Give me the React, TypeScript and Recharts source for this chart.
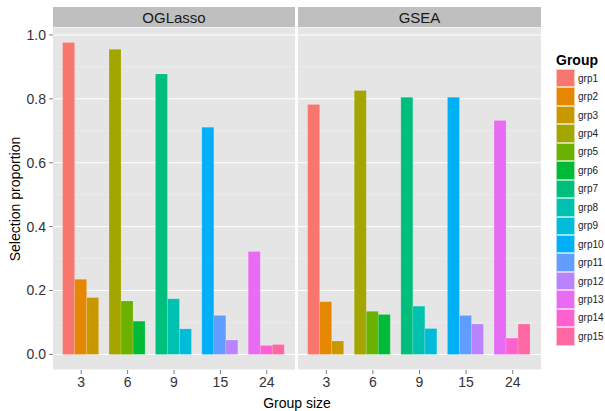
import React from 'react'
import { BarChart, Bar, Cell, XAxis, YAxis, CartesianGrid } from 'recharts'

const groupSizes = ['3', '6', '9', '15', '24']
const groupNames = ['grp1', 'grp2', 'grp3', 'grp4', 'grp5', 'grp6', 'grp7', 'grp8', 'grp9', 'grp10', 'grp11', 'grp12', 'grp13', 'grp14', 'grp15']
const groupColors = ['#F8766D', '#E58700', '#C99800', '#A3A500', '#6BB100', '#00BA38', '#00BF7D', '#00C0AF', '#00BCD8', '#00B0F6', '#619CFF', '#B983FF', '#E76BF3', '#FD61D1', '#FF67A4']

const ogLasso = [0.976, 0.235, 0.178, 0.955, 0.167, 0.104, 0.878, 0.174, 0.080, 0.711, 0.122, 0.045, 0.322, 0.028, 0.031]
const gsea = [0.782, 0.165, 0.042, 0.826, 0.135, 0.125, 0.805, 0.151, 0.081, 0.805, 0.122, 0.095, 0.732, 0.051, 0.095]

const majorTicks = [0, 0.2, 0.4, 0.6, 0.8, 1.0]
const minorTicks = [0.1, 0.3, 0.5, 0.7, 0.9]
const yDomain = [-0.0488, 1.0248]

const font = '"Liberation Sans", Arial, sans-serif'
const slots = ['a', 'b', 'c']

function buildRows(values: number[]) {
  return groupSizes.map((size, i) => ({
    size,
    a: values[i * 3],
    b: values[i * 3 + 1],
    c: values[i * 3 + 2],
  }))
}

// minor grid positions, mapped through the same linear domain as the y axis
function minorLines({ yAxis, offset }: any) {
  if (yAxis && typeof yAxis.scale === 'function') return minorTicks.map((v) => yAxis.scale(v))
  const [lo, hi] = yDomain
  return minorTicks.map((v) => offset.top + (offset.height * (hi - v)) / (hi - lo))
}

function Panel({ title, values, showY, left, width }: { title: string; values: number[]; showY: boolean; left: number; width: number }) {
  const rows = buildRows(values)
  const yW = showY ? 53 : 0
  return (
    <>
      <div
        style={{
          position: 'absolute', left: left + yW, top: 7, width: width - yW, height: 20,
          background: '#BFBFBF', textAlign: 'center', lineHeight: '21px', fontSize: 15, color: '#1a1a1a',
        }}
      >
        {title}
      </div>
      <div style={{ position: 'absolute', left, top: 27 }}>
        <BarChart
          width={width}
          height={380}
          data={rows}
          margin={{ top: 0, right: 0, bottom: 0, left: 0 }}
          barCategoryGap="10%"
          barGap={0}
        >
          <CartesianGrid
            vertical={false}
            fill="#E5E5E5"
            stroke="#F2F2F2"
            strokeWidth={0.6}
            horizontalCoordinatesGenerator={minorLines}
          />
          <CartesianGrid vertical={false} stroke="#FFFFFF" strokeWidth={1} />
          <XAxis
            dataKey="size"
            height={37}
            padding={{ left: 5, right: 5 }}
            axisLine={false}
            tickLine={{ stroke: '#7F7F7F' }}
            tickSize={4}
            tickMargin={3}
            tick={{ fontSize: 14, fill: '#333333', fontFamily: font }}
          />
          <YAxis
            hide={!showY}
            width={yW}
            type="number"
            domain={yDomain}
            ticks={majorTicks}
            allowDataOverflow
            axisLine={false}
            tickLine={{ stroke: '#7F7F7F' }}
            tickSize={4}
            tickMargin={3}
            tickFormatter={(v: number) => v.toFixed(1)}
            tick={{ fontSize: 14, fill: '#333333', fontFamily: font }}
          />
          {slots.map((key, k) => (
            <Bar key={key} dataKey={key} isAnimationActive={false} stroke="rgba(255,255,255,0.25)" strokeWidth={0.6}>
              {rows.map((_, i) => (
                <Cell key={i} fill={groupColors[i * 3 + k]} />
              ))}
            </Bar>
          ))}
        </BarChart>
      </div>
    </>
  )
}

export default function App() {
  return (
    <div style={{ position: 'relative', width: 605, height: 411, background: '#fff', fontFamily: font, overflow: 'hidden' }}>
      <style>{'body{margin:0}'}</style>
      <Panel title="OGLasso" values={ogLasso} showY left={0} width={295} />
      <Panel title="GSEA" values={gsea} showY={false} left={298} width={243} />
      <div
        style={{
          position: 'absolute', left: 15, top: 199, transform: 'translate(-50%, -50%) rotate(-90deg)',
          whiteSpace: 'nowrap', fontSize: 14, color: '#000',
        }}
      >
        Selection proportion
      </div>
      <div style={{ position: 'absolute', left: 297, top: 403, transform: 'translate(-50%, -50%)', fontSize: 14, color: '#000', whiteSpace: 'nowrap' }}>
        Group size
      </div>
      <div style={{ position: 'absolute', left: 556, top: 52, fontSize: 14, fontWeight: 'bold', color: '#000' }}>Group</div>
      <div style={{ position: 'absolute', left: 556, top: 69 }}>
        {groupNames.map((name, i) => (
          <div key={name} style={{ display: 'flex', alignItems: 'center', height: 18.45 }}>
            <div style={{ width: 19, height: 18.45, background: groupColors[i], boxSizing: 'border-box', border: '0.5px solid rgba(255,255,255,0.6)' }} />
            <span style={{ marginLeft: 3, fontSize: 10, color: '#222' }}>{name}</span>
          </div>
        ))}
      </div>
    </div>
  )
}
